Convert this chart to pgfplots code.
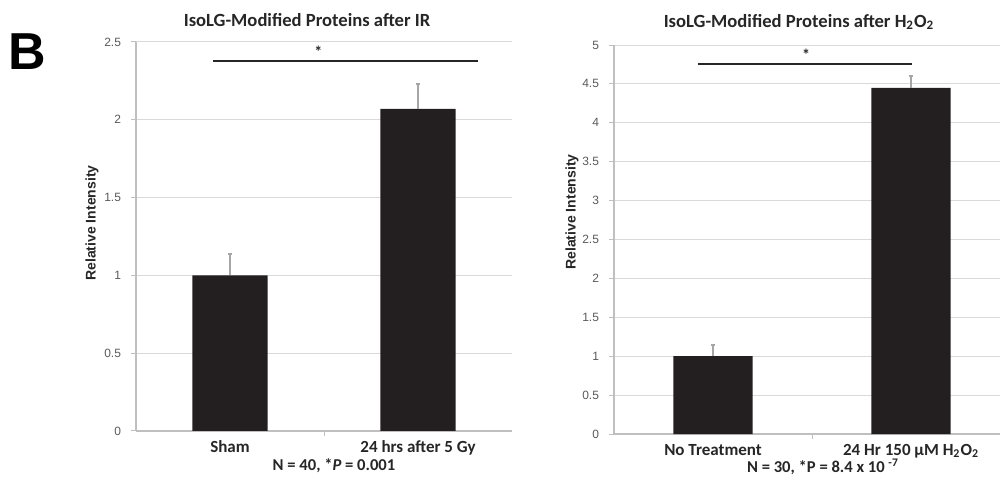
\documentclass[border=0pt]{standalone}
\usepackage{pgfplots}
\pgfplotsset{compat=1.18}
\usepackage{fontspec}
\setmainfont{Carlito}
\newfontfamily\arialfont{Liberation Sans}
\definecolor{barc}{HTML}{231F20}
\definecolor{gridc}{HTML}{D9D9D9}
\definecolor{axc}{HTML}{BFBFBF}
\definecolor{tickc}{HTML}{595959}
\definecolor{txtc}{HTML}{262626}
\definecolor{errc}{HTML}{A6A6A6}
\pgfplotsset{
  panel/.style={
    scale only axis, anchor=south west,
    ymin=0, xmin=-0.5,
    axis x line*=bottom, axis y line*=left,
    axis line style={axc, line width=0.6pt},
    ymajorgrids, grid style={gridc, line width=0.5pt},
    tick align=outside, major tick length=2.5pt,
    ytick style={axc, line width=0.5pt},
    xtick={0,1}, xtick style={draw=none},
    extra x ticks={0.5}, extra x tick labels={},
    extra x tick style={grid=none, xtick style={draw=axc, line width=0.5pt}},
    /pgf/number format/assume math mode=true,
    yticklabel style={font=\arialfont\fontsize{6}{7}\selectfont, text=tickc, xshift=-1.5pt},
    xticklabel style={font=\bfseries\fontsize{8.5}{9}\selectfont, text=txtc, yshift=1pt},
    clip=false,
  },
  barst/.style={ybar, bar width=0.4, fill=barc, draw=none,
    error bars/.cd, y dir=plus, y explicit,
    error bar style={errc, line width=1pt},
    error mark options={errc, line width=1pt, mark size=0.8pt, rotate=90}},
}
\begin{document}
\begin{tikzpicture}
\useasboundingbox (0,0) rectangle (500pt,238pt);
% Panel label
\node[font=\arialfont\bfseries\fontsize{26}{28}\selectfont, text=black] at (13.75pt,212pt) {B};
% Left panel
\begin{axis}[panel, at={(68pt,22.5pt)}, width=188pt, height=194.5pt,
  xmax=1.5, ymax=2.5, ytick={0,0.5,1,1.5,2,2.5},
  xticklabels={Sham, 24 hrs after 5 Gy}]
\addplot[barst] coordinates {(0,1.00) +- (0,0.137) (1,2.07) +- (0,0.16)};
\addplot[draw=txtc, line width=1pt] coordinates {(-0.09,2.38) (1.32,2.38)};
\node[font=\bfseries\fontsize{8}{9}\selectfont, text=txtc] at (axis cs:0.47,2.44) {*};
\end{axis}
\node[font=\bfseries\fontsize{9.3}{10}\selectfont, text=txtc] at (153.5pt,228pt) {IsoLG-Modified Proteins after IR};
\node[rotate=90, font=\arialfont\bfseries\fontsize{7}{8}\selectfont, text=txtc] at (46pt,126.5pt) {Relative Intensity};
\node[font=\bfseries\fontsize{8.3}{9}\selectfont, text=txtc] at (167pt,5pt) {N = 40, *\textit{P} = 0.001};
% Right panel
\begin{axis}[panel, at={(307pt,21pt)}, width=193pt, height=194.5pt,
  xmax=1.449, ymax=5, ytick={0,0.5,...,5},
  xticklabels={No Treatment, 24 Hr 150 µM H\textsubscript{2}O\textsubscript{2}}]
\addplot[barst] coordinates {(0,1.00) +- (0,0.14) (1,4.45) +- (0,0.15)};
\addplot[draw=txtc, line width=1pt] coordinates {(-0.076,4.76) (1.005,4.76)};
\node[font=\bfseries\fontsize{8}{9}\selectfont, text=txtc] at (axis cs:0.47,4.88) {*};
\end{axis}
\node[font=\bfseries\fontsize{9.3}{10}\selectfont, text=txtc] at (399.5pt,227pt) {IsoLG-Modified Proteins after H\textsubscript{2}O\textsubscript{2}};
\node[rotate=90, font=\arialfont\bfseries\fontsize{7}{8}\selectfont, text=txtc] at (286pt,132pt) {Relative Intensity};
\node[font=\bfseries\fontsize{8.3}{9}\selectfont, text=txtc] at (411.5pt,4.5pt) {N = 30, *P = 8.4 x 10 \textsuperscript{-7}};
\end{tikzpicture}
\end{document}
